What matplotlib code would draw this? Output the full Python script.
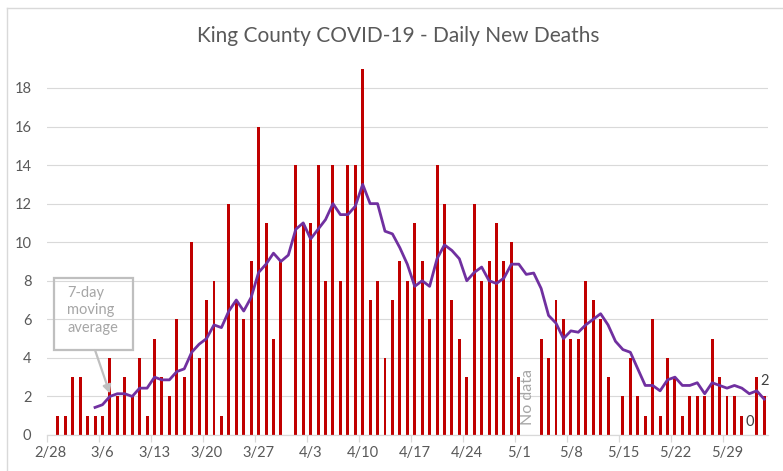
import matplotlib
matplotlib.use("Agg")
import matplotlib.pyplot as plt
from matplotlib.patches import Rectangle
from matplotlib.lines import Line2D
import numpy as np

nan = float("nan")

# Daily new deaths, 2/28 .. 6/3 (2020), one value per day; nan = no data reported
deaths = [0, 1, 1, 3, 3, 1, 1, 1, 4, 2, 3, 2, 4, 1, 5, 3, 2, 6, 3, 10,
          4, 7, 8, 1, 12, 7, 6, 9, 16, 11, 5, 9, nan,
          14, 11, 11, 14, 8, 14, 8, 14, 14, 19, 7, 8, 4, 7, 9, 8, 11, 9, 6, 14,
          12, 7, 5, 3, 12, 8, 9, 11, 9, 10, 3, nan, nan,
          5, 4, 7, 6, 5, 5, 8, 7, 6, 3, 0, 2, 4, 2, 1, 6, 1, 4, 3, 1,
          2, 2, 2, 5, 3, 2, 2, 1, 0, 3, 2]

# 7-day moving average as drawn (starts on 3/5)
moving_avg = [nan, nan, nan, nan, nan, nan,
              1.43, 1.57, 2.00, 2.14, 2.14, 2.00, 2.43, 2.43, 3.00, 2.86,
              2.86, 3.29, 3.43, 4.29, 4.71, 5.00, 5.71, 5.57, 6.43, 7.00,
              6.43, 7.14, 8.43, 8.86, 9.43, 9.00, 9.33, 10.67, 11.00, 10.17,
              10.67, 11.17, 12.00, 11.43, 11.43, 11.86, 13.00, 12.00, 12.00, 10.57,
              10.43, 9.71, 8.86, 7.71, 8.00, 7.71, 9.14, 9.86, 9.57, 9.14,
              8.00, 8.43, 8.71, 8.00, 7.86, 8.14, 8.86, 8.86, 8.33, 8.40,
              7.60, 6.20, 5.80, 5.00, 5.40, 5.33, 5.71, 6.00, 6.29, 5.71,
              4.86, 4.43, 4.29, 3.43, 2.57, 2.57, 2.29, 2.86, 3.00, 2.57,
              2.57, 2.71, 2.14, 2.71, 2.57, 2.43, 2.57, 2.43, 2.14, 2.29, 1.86]

tick_labels = ["2/28", "3/6", "3/13", "3/20", "3/27", "4/3", "4/10",
               "4/17", "4/24", "5/1", "5/8", "5/15", "5/22", "5/29"]
y_ticks = [0, 2, 4, 6, 8, 10, 12, 14, 16, 18]
no_data_index = 64
labelled_points = {94: "0", 96: "2"}

FONT = ["Lato", "DejaVu Sans"]
plt.rcParams["font.family"] = FONT

W, H = 783, 471
fig = plt.figure(figsize=(W / 100, H / 100), dpi=100)
fig.patch.set_facecolor("white")

def fx(px):
    return px / W

def fy(py):
    return 1 - py / H

ax = fig.add_axes([fx(46.7), fy(435), fx(767.9) - fx(46.7), fy(64.8) - fy(435)])

x = np.arange(len(deaths))
d = np.array(deaths, dtype=float)
ma = np.array(moving_avg, dtype=float)

ax.bar(x, np.nan_to_num(d), width=0.4, color="#C00000", zorder=2)
ax.plot(x, ma, color="#7030A0", lw=2.0, zorder=3, solid_joinstyle="round")

ax.set_xlim(-0.5, len(deaths) - 0.5)
ax.set_ylim(0, 19.2)
ax.set_yticks(y_ticks)
ax.set_yticklabels([str(v) for v in y_ticks])
ax.grid(axis="y", color="#d9d9d9", lw=0.8, zorder=0)
ax.set_axisbelow(True)

for s in ["top", "right", "left"]:
    ax.spines[s].set_visible(False)
ax.spines["bottom"].set_color("#d9d9d9")
ax.spines["bottom"].set_linewidth(0.9)

# major ticks between categories (no labels), minor ticks carry labels
label_pos = np.arange(len(tick_labels)) * 7
ax.set_xticks(label_pos - 0.5)
ax.set_xticklabels([""] * len(label_pos))
ax.set_xticks(label_pos, minor=True)
ax.set_xticklabels(tick_labels, minor=True)
ax.tick_params(axis="x", which="major", length=5, color="#d9d9d9", width=0.9)
ax.tick_params(axis="x", which="minor", length=0, pad=8, labelsize=10.5,
               labelcolor="#595959")
ax.tick_params(axis="y", length=0, pad=11, labelsize=10.5, labelcolor="#595959")

# Title
fig.text(fx(398), fy(36), "King County COVID-19 - Daily New Deaths",
         ha="center", va="center", fontsize=15, color="#595959")

# "No data" marker
ax.text(no_data_index + 0.3, 0.5, "No data", rotation=90, ha="center", va="bottom",
        fontsize=11.5, color="#a6a6a6")

# data labels
for idx, lab in labelled_points.items():
    val = 0 if np.isnan(d[idx]) else d[idx]
    off = 4 if val == 0 else 6
    ax.annotate(lab, xy=(idx, val), xytext=(0.5, off), textcoords="offset points",
                ha="center", va="bottom", fontsize=10.5, color="#404040")

# callout box
fig.patches.append(Rectangle((fx(54), fy(350)), fx(133) - fx(54), fy(278) - fy(350),
                             transform=fig.transFigure, fill=False,
                             ec="#bfbfbf", lw=1.6, zorder=5))
fig.text(fx(67), fy(286), "7-day\nmoving\naverage", ha="left", va="top",
         fontsize=10.5, color="#a6a6a6", linespacing=1.3)
ax.annotate("", xy=(8, ma[8] + 0.15), xycoords="data",
            xytext=(fx(95), fy(350)), textcoords="figure fraction",
            arrowprops=dict(arrowstyle="-|>", color="#bfbfbf", lw=1.6,
                            shrinkA=0, shrinkB=0, mutation_scale=12))

# chart-area border (top and left visible)
fig.add_artist(Line2D([fx(7), 1], [fy(8), fy(8)], transform=fig.transFigure,
                      color="#d9d9d9", lw=1.0))
fig.add_artist(Line2D([fx(7), fx(7)], [fy(8), 0], transform=fig.transFigure,
                      color="#d9d9d9", lw=1.0))

fig.savefig("out.png", dpi=100, facecolor="white")
